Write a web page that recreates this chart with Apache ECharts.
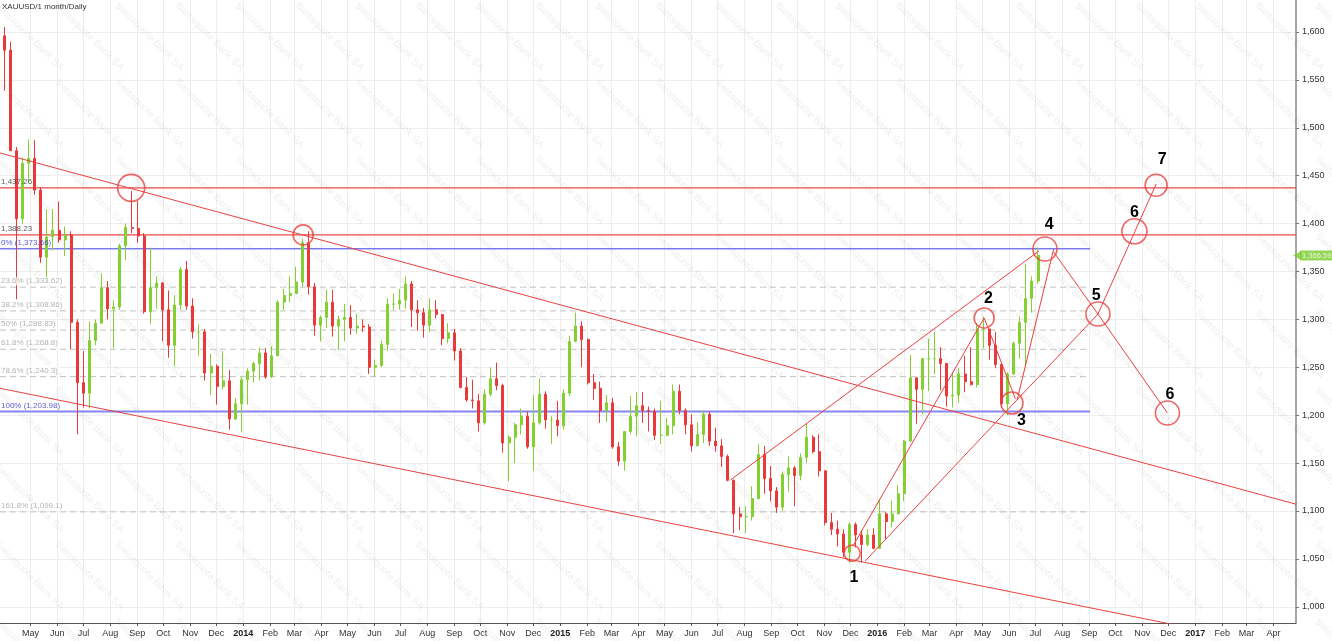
<!DOCTYPE html>
<html><head><meta charset="utf-8">
<script src="https://cdn.jsdelivr.net/npm/echarts@6/dist/echarts.min.js"></script>
<style>html,body{margin:0;padding:0;background:#fff}#c{width:1332px;height:641px}</style>
</head><body><div id="c"></div>
<script>
const chartTitle = 'XAUUSD/1 month/Daily';
const watermarkText = 'Swissquote Bank SA';

// Weekly OHLC: [week start, open, high, low, close]
const gold2013 = [
['2013-04-01',1596,1605,1539,1581],['2013-04-08',1581,1590,1476,1476],['2013-04-15',1476,1480,1321,1405],
['2013-04-22',1405,1469,1400,1463],['2013-04-29',1463,1488,1443,1468],['2013-05-06',1468,1487,1430,1435],
['2013-05-13',1435,1438,1359,1365],['2013-05-20',1365,1415,1338,1386],['2013-05-27',1386,1415,1372,1393],
['2013-06-03',1393,1423,1380,1383],['2013-06-10',1383,1397,1366,1388],['2013-06-17',1388,1392,1269,1297],
['2013-06-24',1297,1300,1180,1234],['2013-07-01',1234,1267,1208,1223],['2013-07-08',1223,1298,1207,1278],
['2013-07-15',1278,1300,1273,1296],['2013-07-22',1296,1348,1296,1333],['2013-07-29',1333,1340,1300,1311],
['2013-08-05',1311,1320,1270,1313],['2013-08-12',1313,1379,1310,1377],['2013-08-19',1377,1400,1362,1396],
['2013-08-26',1396,1434,1390,1395],['2013-09-02',1395,1424,1380,1387],['2013-09-09',1387,1390,1306,1308],
['2013-09-16',1308,1375,1295,1333],['2013-09-23',1333,1345,1311,1338],['2013-09-30',1338,1339,1277,1310],
['2013-10-07',1310,1330,1260,1273],['2013-10-14',1273,1325,1251,1315],['2013-10-21',1315,1355,1310,1352],
['2013-10-28',1352,1361,1310,1314],['2013-11-04',1314,1322,1280,1287],['2013-11-11',1287,1295,1262,1287],
['2013-11-18',1287,1290,1236,1244],['2013-11-25',1244,1264,1221,1251],['2013-12-02',1251,1253,1211,1230],
['2013-12-09',1230,1267,1227,1236],['2013-12-16',1236,1247,1185,1196],['2013-12-23',1196,1218,1195,1212],
['2013-12-30',1212,1240,1182,1237]
];
const gold2014 = [
['2014-01-06',1237,1249,1211,1246],['2014-01-13',1246,1256,1234,1254],['2014-01-20',1254,1271,1236,1265],
['2014-01-27',1265,1270,1238,1240],['2014-02-03',1240,1272,1239,1262],['2014-02-10',1262,1320,1262,1318],
['2014-02-17',1318,1332,1310,1325],['2014-02-24',1325,1345,1318,1327],['2014-03-03',1327,1355,1329,1339],
['2014-03-10',1339,1384,1334,1380],['2014-03-17',1380,1392,1326,1334],['2014-03-24',1334,1338,1283,1294],
['2014-03-31',1294,1304,1277,1302],['2014-04-07',1302,1331,1291,1318],['2014-04-14',1318,1331,1282,1293],
['2014-04-21',1293,1304,1268,1300],['2014-04-28',1300,1316,1277,1302],['2014-05-05',1302,1315,1284,1291],
['2014-05-12',1291,1306,1285,1293],['2014-05-19',1293,1300,1287,1292],['2014-05-26',1292,1295,1243,1250],
['2014-06-02',1250,1258,1240,1252],['2014-06-09',1252,1278,1250,1274],['2014-06-16',1274,1322,1267,1316],
['2014-06-23',1316,1327,1310,1316],['2014-06-30',1316,1332,1310,1320],['2014-07-07',1320,1345,1311,1337],
['2014-07-14',1337,1340,1292,1310],['2014-07-21',1310,1320,1288,1307],['2014-07-28',1307,1312,1281,1294],
['2014-08-04',1294,1322,1287,1310],['2014-08-11',1310,1320,1301,1305],['2014-08-18',1305,1306,1273,1280],
['2014-08-25',1280,1296,1275,1286],['2014-09-01',1286,1290,1257,1267],['2014-09-08',1267,1270,1228,1229],
['2014-09-15',1229,1240,1214,1216],['2014-09-22',1216,1237,1207,1215],['2014-09-29',1215,1222,1183,1192],
['2014-10-06',1192,1227,1190,1222],['2014-10-13',1222,1250,1220,1238],['2014-10-20',1238,1255,1226,1231],
['2014-10-27',1231,1233,1161,1171],['2014-11-03',1171,1179,1131,1177],['2014-11-10',1177,1192,1150,1190],
['2014-11-17',1190,1207,1180,1199],['2014-11-24',1199,1204,1165,1167],['2014-12-01',1167,1221,1142,1192],
['2014-12-08',1192,1238,1190,1222],['2014-12-15',1222,1225,1186,1195],['2014-12-22',1195,1199,1170,1195],
['2014-12-29',1195,1215,1178,1189]
];
const gold2015 = [
['2015-01-05',1189,1227,1185,1223],['2015-01-12',1223,1283,1220,1277],['2015-01-19',1277,1307,1276,1293],
['2015-01-26',1293,1298,1250,1279],['2015-02-02',1279,1280,1232,1234],['2015-02-09',1234,1243,1216,1228],
['2015-02-16',1228,1235,1192,1205],['2015-02-23',1205,1221,1193,1213],['2015-03-02',1213,1218,1165,1167],
['2015-03-09',1167,1172,1147,1152],['2015-03-16',1152,1180,1142,1183],['2015-03-23',1183,1220,1180,1199],
['2015-03-30',1199,1224,1178,1210],['2015-04-06',1210,1224,1192,1205],['2015-04-13',1205,1209,1183,1204],
['2015-04-20',1204,1207,1174,1179],['2015-04-27',1179,1215,1170,1179],['2015-05-04',1179,1197,1178,1189],
['2015-05-11',1189,1232,1180,1225],['2015-05-18',1225,1232,1201,1205],['2015-05-25',1205,1207,1180,1190],
['2015-06-01',1190,1201,1162,1168],['2015-06-08',1168,1193,1172,1180],['2015-06-15',1180,1205,1171,1201],
['2015-06-22',1201,1204,1168,1173],['2015-06-29',1173,1187,1162,1168],['2015-07-06',1168,1175,1146,1157],
['2015-07-13',1157,1159,1131,1132],['2015-07-20',1132,1133,1077,1097],['2015-07-27',1097,1104,1080,1094],
['2015-08-03',1094,1105,1077,1094],['2015-08-10',1094,1126,1090,1113],['2015-08-17',1113,1170,1112,1159],
['2015-08-24',1159,1168,1118,1134],['2015-08-31',1134,1147,1110,1121],['2015-09-07',1121,1125,1098,1104],
['2015-09-14',1104,1141,1100,1138],['2015-09-21',1138,1157,1120,1145],['2015-09-28',1145,1147,1105,1137],
['2015-10-05',1137,1160,1132,1156],['2015-10-12',1156,1191,1150,1177],['2015-10-19',1177,1179,1160,1162],
['2015-10-26',1162,1180,1136,1142],['2015-11-02',1142,1142,1085,1088],['2015-11-09',1088,1098,1075,1081],
['2015-11-16',1081,1090,1063,1076],['2015-11-23',1076,1081,1052,1057],['2015-11-30',1057,1088,1046,1086],
['2015-12-07',1086,1088,1062,1075],['2015-12-14',1075,1080,1046,1065],['2015-12-21',1065,1081,1063,1075],
['2015-12-28',1075,1082,1060,1061]
];
const gold2016 = [
['2016-01-04',1061,1112,1061,1097],['2016-01-11',1097,1099,1071,1089],['2016-01-18',1089,1111,1083,1097],
['2016-01-25',1097,1127,1097,1118],['2016-02-01',1118,1174,1110,1173],['2016-02-08',1173,1263,1172,1239],
['2016-02-15',1239,1240,1191,1227],['2016-02-22',1227,1260,1201,1259],['2016-02-29',1259,1280,1225,1259],
['2016-03-07',1259,1287,1243,1259],['2016-03-14',1259,1271,1226,1254],['2016-03-21',1254,1254,1209,1220],
['2016-03-28',1220,1245,1208,1221],['2016-04-04',1221,1249,1213,1243],['2016-04-11',1243,1262,1224,1235],
['2016-04-18',1235,1271,1231,1232],['2016-04-25',1232,1296,1229,1290],['2016-05-02',1290,1303,1270,1290],
['2016-05-09',1290,1290,1258,1273],['2016-05-16',1273,1287,1249,1253],['2016-05-23',1253,1254,1208,1212],
['2016-05-30',1212,1245,1200,1243],['2016-06-06',1243,1277,1242,1275],['2016-06-13',1275,1303,1259,1297],
['2016-06-20',1297,1358,1250,1322],['2016-06-27',1322,1345,1307,1340],['2016-07-04',1340,1375,1337,1366.59]
];
const lastPrice = 1366.59;

// Axis ticks
const xAxisStart = '2013-03-27';
const xAxisEnd = '2017-04-27';
const firstTickMonth = [2013, 4]; // May 2013 (month index 4)
const monthTickLabels = ['May','Jun','Jul','Aug','Sep','Oct','Nov','Dec',
 '2014','Feb','Mar','Apr','May','Jun','Jul','Aug','Sep','Oct','Nov','Dec',
 '2015','Feb','Mar','Apr','May','Jun','Jul','Aug','Sep','Oct','Nov','Dec',
 '2016','Feb','Mar','Apr','May','Jun','Jul','Aug','Sep','Oct','Nov','Dec',
 '2017','Feb','Mar','Apr'];
const priceTicks = [1000,1050,1100,1150,1200,1250,1300,1350,1400,1450,1500,1550,1600];
const priceMin = 983.1, priceMax = 1633.4;

// Levels
const resistanceLevels = [1437.26, 1388.23];
const fibNames = ['0%','23.6%','38.2%','50%','61.8%','78.6%','100%','161.8%'];
const fibValues = [1373.66,1333.62,1308.86,1288.83,1268.8,1240.3,1203.98,1099.1];
const fibEndDate = '2016-09-02';

// Trend lines [date, price] pairs
const channelUpper = [['2013-03-27',1473.7],['2017-04-27',1107.1]];
const channelLower = [['2013-03-27',1228.1],['2017-04-27',955.7]];
const trendMid = [['2015-07-16',1132.4],['2016-07-05',1371.4]];
const wave1to2 = [['2015-12-04',1063.5],['2016-05-03',1301.5]];
const parallel3to5 = [['2015-12-18',1047.8],['2016-09-11',1305.6]];
const wave2to3 = [['2016-05-03',1301.5],['2016-06-08',1217]];
const wave3to4 = [['2016-06-10',1215.9],['2016-07-22',1373.5]];
const wave4to5 = [['2016-07-22',1370.4],['2016-09-11',1305.6]];
const wave5to7 = [['2016-09-11',1305.6],['2016-11-17',1441.3]];
const wave5to6 = [['2016-09-11',1305.6],['2016-11-30',1202.3]];

// Circled pivots
const circlePoints = [['2013-08-25',1437.3],['2014-03-11',1388.2],['2015-12-03',1056],['2016-05-03',1301.5],
 ['2016-06-04',1212.7],['2016-07-12',1373.5],['2016-09-11',1305.6],['2016-10-23',1392],['2016-11-17',1440],['2016-11-30',1202.3]];
// Wave numbers
const waveNames = ['1','2','3','4','5','6','7','6'];
const wavePoints = [['2015-12-05',1031],['2016-05-08',1322],['2016-06-15',1194],['2016-07-17',1398.5],
 ['2016-09-09',1324.4],['2016-10-23',1411],['2016-11-24',1466.4],['2016-12-03',1222]];

// ---------- build ----------
const T = s => new Date(s + 'T00:00:00').getTime();
const fmt = v => v.toLocaleString('en-US', {maximumFractionDigits: 2});
const FONT = 'Arial, "Liberation Sans", sans-serif';
const RED = '#e8413f';
const ringSizes = [27,20,16,20,22,24,24,25,22,24];
const SMALL = 8;
const AXISFONT = 9;

const candles = [...gold2013, ...gold2014, ...gold2015, ...gold2016].map(r => [T(r[0]), r[1], r[4], r[3], r[2]]);

const tickTimes = monthTickLabels.map((_, i) => new Date(firstTickMonth[0], firstTickMonth[1] + i, 1).getTime());
const tickLabelMap = new Map(tickTimes.map((t, i) => [t, monthTickLabels[i]]));

function lineSeries(pts, color, width, type, z) {
  return {type:'line', data: pts, showSymbol:false, symbol:'none', silent:true,
    lineStyle:{color, width, type}, z, animation:false};
}
function segSeries(pts) { return lineSeries(pts.map(p => [T(p[0]), p[1]]), RED, 1, 'solid', 4); }

const levelSeries = [];
const levelLabels = [];
resistanceLevels.forEach(v => {
  levelSeries.push(lineSeries([[T(xAxisStart), v], [T(xAxisEnd), v]], '#ec4a4a', 1.3, 'solid', 2));
  levelLabels.push({value:[T(xAxisStart), v], name: fmt(v), label:{color:'#333'}});
});
fibValues.forEach((v, i) => {
  const edge = (i === 0 || i === 6);
  const color = i === 0 ? '#3c3cf0' : (i === 6 ? '#8585f5' : '#c2c2c2');
  levelSeries.push(lineSeries([[T(xAxisStart), v], [T(fibEndDate), v]], color, i === 6 ? 2 : 1, edge ? 'solid' : [6, 4], 2));
  levelLabels.push({value:[T(xAxisStart), v], name: fibNames[i] + ' (' + fmt(v) + ')',
    label: edge ? {color:'#3535cc'} : {color:'#a0a0a0', backgroundColor:'#fff'}});
});

const wm = [];
for (let j = 0; j < 9; j++) for (let i = 0; i < 23; i++) {
  wm.push({type:'text', x: i*60, y: j*77, rotation: -Math.PI/4, silent:true, z:1,
    style:{text: watermarkText, fill:'rgba(0,0,0,0.075)', font:'10px ' + FONT, verticalAlign:'top'}});
}
wm.push({type:'text', x:2, y:3, z:10, silent:true, style:{text: chartTitle, fill:'#333', font:'8px ' + FONT, verticalAlign:'top'}});

const option = {
  animation:false,
  backgroundColor:'#fff',
  graphic: wm,
  grid:{left:0, right:36, top:0, bottom:18, containLabel:false, outerBoundsMode:'none'},
  xAxis:{type:'value', min:T(xAxisStart), max:T(xAxisEnd),
    axisLine:{show:true, lineStyle:{color:'#555', width:1}},
    axisTick:{show:true, length:3, lineStyle:{color:'#555'}, customValues: tickTimes},
    axisLabel:{customValues: tickTimes, margin:6, fontSize:AXISFONT, fontFamily:FONT, color:'#333',
      formatter: v => { const s = tickLabelMap.get(v) || ''; return /^\d{4}$/.test(s) ? '{b|' + s + '}' : s; },
      rich:{b:{fontWeight:'bold', fontSize:AXISFONT, fontFamily:FONT, color:'#222'}}},
    splitLine:{show:true, lineStyle:{color:'#eeeeee', width:1}}},
  yAxis:{type:'value', position:'right', min:priceMin, max:priceMax,
    axisLine:{show:true, lineStyle:{color:'#a5a5a5', width:2}},
    axisTick:{show:true, length:3, lineStyle:{color:'#777'}, customValues: priceTicks},
    axisLabel:{customValues: priceTicks, margin:6, fontSize:AXISFONT, fontFamily:FONT, color:'#333', formatter: v => fmt(v)},
    splitLine:{show:true, lineStyle:{color:'#eeeeee', width:1}}},
  series:[
    ...levelSeries,
    {type:'candlestick', data:candles, encode:{x:0, y:[1,2,3,4]}, barWidth:2.5, z:3,
      itemStyle:{color:'#84d030', color0:'#e83a3a', borderColor:'#84d030', borderColor0:'#e83a3a', borderWidth:1}},
    segSeries(channelUpper), segSeries(channelLower), segSeries(trendMid), segSeries(wave1to2),
    segSeries(parallel3to5), segSeries(wave2to3), segSeries(wave3to4), segSeries(wave4to5),
    segSeries(wave5to7), segSeries(wave5to6),
    {type:'scatter', silent:true, z:7, symbol:'circle', symbolSize:0, clip:false,
      data: levelLabels, itemStyle:{color:'#000'},
      label:{show:true, position:[1, -10], formatter: p => p.name, fontSize:SMALL, fontFamily:FONT, padding:[0,1,0,0]}},
    {type:'scatter', silent:true, z:5, symbol:'circle',
      data: circlePoints.map((p, i) => ({value:[T(p[0]), p[1]], symbolSize: ringSizes[i]})),
      itemStyle:{color:'rgba(0,0,0,0)', borderColor:RED, borderWidth:1.6}},
    {type:'scatter', silent:true, z:6, symbol:'circle', symbolSize:0,
      data: wavePoints.map((p, i) => ({value:[T(p[0]), p[1]], name: waveNames[i]})),
      itemStyle:{color:'#000', opacity:1},
      label:{show:true, position:'inside', formatter: p => p.name, color:'#000', fontSize:16, fontWeight:'bold', fontFamily:FONT}},
    {type:'scatter', silent:true, z:8, clip:false, symbol:'triangle', symbolRotate:90, symbolSize:[9,8], symbolOffset:[1,0],
      data:[{value:[T(xAxisEnd), lastPrice], name: fmt(lastPrice)}],
      itemStyle:{color:'#7ccc2c'},
      label:{show:true, position:'right', distance:-1, formatter: p => p.name, color:'#fff', backgroundColor:'#7ccc2c',
        padding:[1,2,1,2], fontSize:7.6, fontFamily:FONT}}
  ]
};
const chart = echarts.init(document.getElementById('c'));
chart.setOption(option);
</script></body></html>
